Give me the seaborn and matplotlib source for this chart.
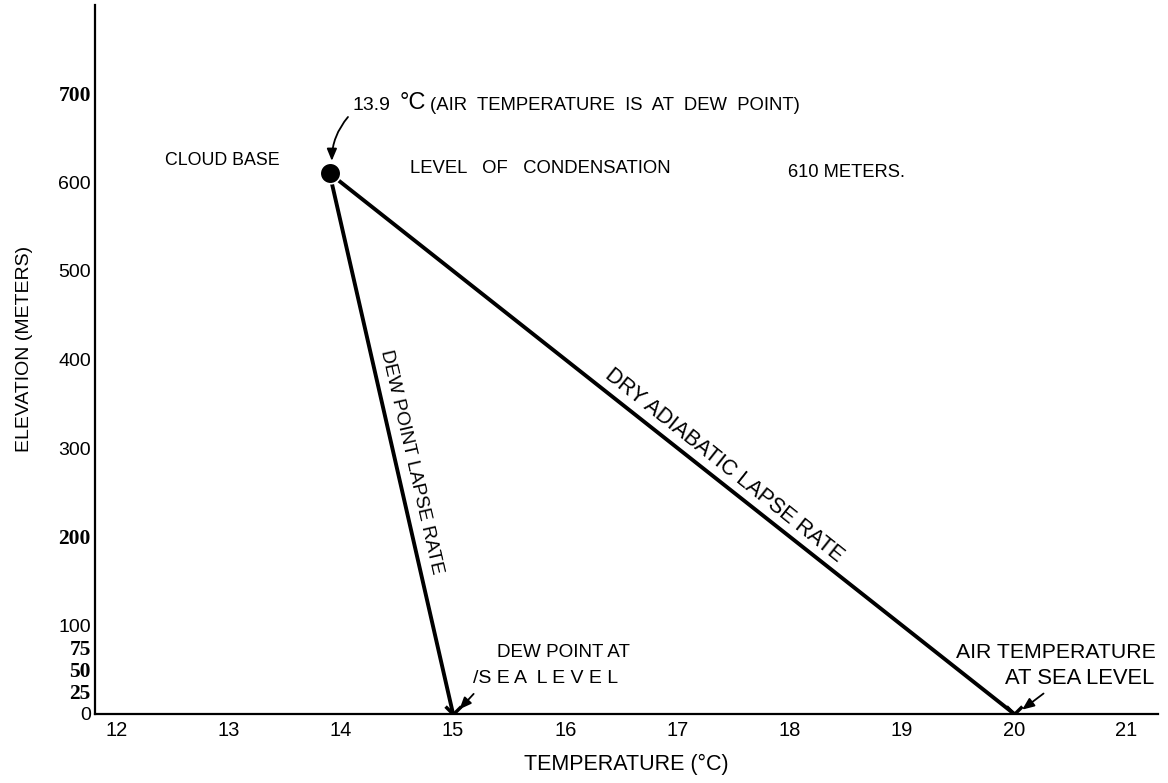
import matplotlib
matplotlib.use("Agg")
import matplotlib.pyplot as plt
import seaborn as sns
import pandas as pd

# data
temps = [13.9, 15.0, 13.9, 20.0]
elev = [610, 0, 610, 0]
line_ids = ["dew", "dew", "dry", "dry"]
marker_temps = [13.9]
marker_elev = [610]
x_marks_t = [15.0, 20.0]
x_marks_e = [0, 0]
xticks = [12, 13, 14, 15, 16, 17, 18, 19, 20, 21]
yticks = [0, 25, 50, 75, 100, 200, 300, 400, 500, 600, 700]
ytick_labels = ["0", "25", "50", "75", "100", "200", "300", "400", "500", "600", "700"]

sns.set_theme(style="white")
plt.rcParams['font.family'] = ['Liberation Sans', 'DejaVu Sans']
plt.rcParams['text.color'] = 'black'
plt.rcParams['axes.labelcolor'] = 'black'

fig = plt.figure(figsize=(11.68, 7.83), dpi=100)
ax = fig.add_axes([95/1168, 1 - 714/783, (1158 - 95)/1168, (714 - 5)/783])

df = pd.DataFrame({"t": temps, "e": elev, "line": line_ids})
sns.lineplot(data=df, x="t", y="e", units="line", estimator=None, color="black",
             linewidth=2.8, ax=ax, sort=False)
sns.scatterplot(x=marker_temps, y=marker_elev, color="black", s=220, ax=ax, zorder=5)
sns.scatterplot(x=x_marks_t, y=x_marks_e, marker="x", color="black", s=130,
                linewidth=2.5, ax=ax, zorder=5)

ax.set_xlim(11.81, 21.28)
ax.set_ylim(0, 800)
ax.set_xticks(xticks)
ax.set_yticks(yticks)
ax.set_yticklabels(ytick_labels)
ax.tick_params(axis="both", direction="in", length=11, width=1.5,
               colors="black", pad=4)
ax.tick_params(axis="x", labelsize=14.5, pad=5)
ax.tick_params(axis="y", labelsize=14, pad=3)
for lbl in ax.get_yticklabels():
    if lbl.get_text() in ("700", "200", "75", "50", "25"):
        lbl.set_fontfamily("Liberation Serif")
        lbl.set_fontweight("bold")
        lbl.set_fontsize(15.5)
for s in ("top", "right"):
    ax.spines[s].set_visible(False)
for s in ("left", "bottom"):
    ax.spines[s].set_color("black")
    ax.spines[s].set_linewidth(1.6)

ax.set_xlabel("TEMPERATURE (°C)", fontsize=15.5, labelpad=10)
ax.set_ylabel("ELEVATION (METERS)", fontsize=14, labelpad=14)
ax.yaxis.set_label_coords(-0.058, 0.515)

# top annotation
ax.text(14.10, 687, "13.9", fontsize=14, va="center")
ax.text(14.52, 689, "°C", fontsize=17, va="center")
ax.text(14.795, 687, "(AIR  TEMPERATURE  IS  AT  DEW  POINT)", fontsize=13.3, va="center")
ax.annotate("", xy=(13.92, 621), xytext=(14.08, 676),
            arrowprops=dict(arrowstyle="-|>,head_length=0.6,head_width=0.25",
                            color="black", lw=1.3,
                            connectionstyle="arc3,rad=0.2"))
ax.text(12.43, 624, "CLOUD BASE", fontsize=12.8, va="center")
ax.text(14.62, 616, "LEVEL   OF   CONDENSATION", fontsize=13.3, va="center")
ax.text(17.98, 611, "610 METERS.", fontsize=13.2, va="center")

# line labels
ax.annotate("DEW POINT LAPSE RATE", xy=(14.495, 280), xytext=(11, 2.5),
            textcoords="offset points", fontsize=13.8, rotation=-77,
            ha="center", va="center", rotation_mode="anchor")
ax.annotate("DRY ADIABATIC LAPSE RATE", xy=(17.33, 267), xytext=(6.5, 8.5),
            textcoords="offset points", fontsize=15.5, rotation=-38.5,
            ha="center", va="center", rotation_mode="anchor")

# bottom annotations
ax.text(15.39, 69, "DEW POINT AT", fontsize=13.6, va="center")
ax.text(15.18, 40, "/S E A  L E V E L", fontsize=14, va="center")
ax.annotate("", xy=(15.04, 3), xytext=(15.2, 25),
            arrowprops=dict(arrowstyle="-|>,head_length=0.6,head_width=0.25",
                            color="black", lw=1.3))
ax.text(20.37, 69, "AIR TEMPERATURE", fontsize=15.3, va="center", ha="center")
ax.text(20.58, 40, "AT SEA LEVEL", fontsize=15.8, va="center", ha="center")
ax.annotate("", xy=(20.05, 3), xytext=(20.28, 25),
            arrowprops=dict(arrowstyle="-|>,head_length=0.6,head_width=0.25",
                            color="black", lw=1.3))

fig.savefig("out.png", dpi=100, facecolor="white")
